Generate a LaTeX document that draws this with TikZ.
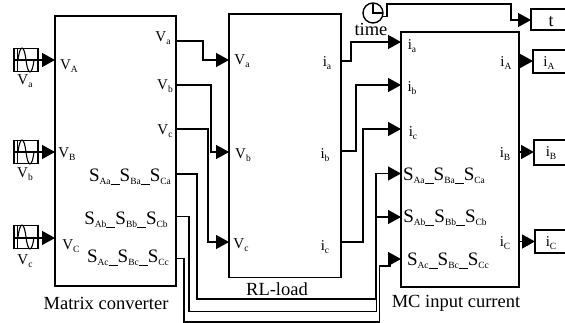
\documentclass[tikz,border=0pt]{standalone}
\usepackage{fontspec}
\setmainfont{Liberation Serif}
\usetikzlibrary{arrows.meta}
\newcommand{\lab}[2]{#1\raisebox{-3.5pt}{\fontsize{9.5}{9.5}\selectfont #2}}
\newcommand{\gap}{\rule[-3.5pt]{9pt}{0.8pt}}
\begin{document}
\begin{tikzpicture}[x=1pt,y=-1pt,
  every node/.style={inner sep=0pt,outer sep=0pt},
  blockbox/.style={draw,line width=1.4pt,fill=white,minimum width=0pt},
  wire/.style={draw,line width=1.4pt,-{Triangle[length=13pt,width=14pt]},line join=miter},
  port/.style={font=\fontsize{15}{15}\selectfont,anchor=center},
  big/.style={font=\fontsize{19}{19}\selectfont,anchor=center},
  capt/.style={font=\fontsize{18.5}{19}\selectfont,anchor=center}]
\useasboundingbox (0,0) rectangle (565,323);
\clip (0,0) rectangle (565,323);
% blocks
\node[blockbox,minimum width=121pt,minimum height=270pt,anchor=north west] (mc) at (55,16) {};
\node[blockbox,minimum width=112pt,minimum height=263.5pt,anchor=north west] (rl) at (229,14) {};
\node[blockbox,minimum width=118pt,minimum height=255pt,anchor=north west] (cur) at (401,32) {};
% sources
\foreach \n/\y in {sa/60,sb/152,sc/237}{
  \node[draw,line width=1.5pt,minimum width=24pt,minimum height=23pt] (\n) at (26,\y) {};
  \draw[line width=1.1pt] (18,\y) .. controls (20,\y-16) and (24,\y-16) .. (26,\y) .. controls (28,\y+16) and (32,\y+16) .. (34,\y);
  \draw[line width=1.1pt] (17.5,\y-11) -- (17.5,\y+11);
}
% clock
\node[draw,circle,line width=1.4pt,minimum size=20pt] (clk) at (373,13) {};
\draw[line width=1.2pt] (373,3) -- (373,13) -- (382,13);
\coordinate (clkout) at (382,16.5);
% outputs
\node[blockbox,minimum width=36pt,minimum height=21pt,anchor=north west] (tb) at (531,9) {};
\node[blockbox,minimum width=36pt,minimum height=23pt,anchor=north west] (ia) at (533,50) {};
\node[blockbox,minimum width=36pt,minimum height=25pt,anchor=north west] (ib) at (534,140) {};
\node[blockbox,minimum width=36pt,minimum height=23pt,anchor=north west] (ic) at (535,230) {};
% connectors
\path[wire] (14.5,60) -- (mc.west|-0,60);
\path[wire] (14.5,152) -- (mc.west|-0,152);
\path[wire] (14.5,238) -- (mc.west|-0,238);
\path[wire] (mc.east|-0,41) -| (203,60) -- (rl.west|-0,60);
\path[wire] (mc.east|-0,85) -| (211,152) -- (rl.west|-0,152);
\path[wire] (mc.east|-0,129) -| (208,242) -- (rl.west|-0,242);
\path[wire] (mc.east|-0,174) -| (197,299) -| (376,173.5) -- (cur.west|-0,173.5);
\path[wire] (mc.east|-0,216.5) -| (189,311.5) -| (376.5,217) -- (cur.west|-0,217);
\path[wire] (mc.east|-0,258.5) -| (184,322) -| (379.5,266) -| (390,259) -- (cur.west|-0,259);
\path[wire] (rl.east|-0,61) -| (351,42) -- (cur.west|-0,42);
\path[wire] (rl.east|-0,151) -| (356,85) -- (cur.west|-0,85);
\path[wire] (rl.east|-0,242) -| (363,129) -- (cur.west|-0,129);
\path[wire] (cur.east|-0,61) -- (ia.west|-0,61);
\path[wire] (cur.east|-0,152) -- (ib.west|-0,152);
\path[wire] (cur.east|-0,241.5) -- (ic.west|-0,241.5);
\path[wire] (clkout) -- (387,16.5) -- (387,4) -| (511,20) -- (tb.west|-0,20);
% source labels
\node[port] (l1) at (25,81) {\lab{V}{a}};
\node[port] (l2) at (25,174) {\lab{V}{b}};
\node[port] (l3) at (25,261) {\lab{V}{c}};
% matrix labels
\node[port] (m1) at (69,66) {\lab{V}{A}};
\node[port] (m2) at (67,154) {\lab{V}{B}};
\node[port] (m3) at (71,246) {\lab{V}{C}};
\node[port] (m4) at (163,38) {\lab{V}{a}};
\node[port] (m5) at (165,86) {\lab{V}{b}};
\node[port] (m6) at (165,131) {\lab{V}{c}};
\node[big] (m7) at (130,177) {\lab{S}{Aa}\gap\lab{S}{Ba}\gap\lab{S}{Ca}};
\node[big] (m8) at (126,220) {\lab{S}{Ab}\gap\lab{S}{Bb}\gap\lab{S}{Cb}};
\node[big] (m9) at (128,258) {\lab{S}{Ac}\gap\lab{S}{Bc}\gap\lab{S}{Cc}};
\node[capt] (m10) at (106,303) {Matrix converter};
% RL labels
\node[port] (r1) at (242,61) {\lab{V}{a}};
\node[port] (r2) at (243,155) {\lab{V}{b}};
\node[port] (r3) at (241,245) {\lab{V}{c}};
\node[port] (r4) at (327,63) {\lab{i}{a}};
\node[port] (r5) at (325,155) {\lab{i}{b}};
\node[port] (r6) at (325,247) {\lab{i}{c}};
\node[capt] (r7) at (277,289) {RL-load};
% current labels
\node[port] (c1) at (412,46) {\lab{i}{a}};
\node[port] (c2) at (412,88) {\lab{i}{b}};
\node[port] (c3) at (413,133) {\lab{i}{c}};
\node[port] (c4) at (506,63) {\lab{i}{A}};
\node[port] (c5) at (505,154) {\lab{i}{B}};
\node[port] (c6) at (505,243) {\lab{i}{C}};
\node[big] (c7) at (444,176) {\lab{S}{Aa}\gap\lab{S}{Ba}\gap\lab{S}{Ca}};
\node[big] (c8) at (445,218) {\lab{S}{Ab}\gap\lab{S}{Bb}\gap\lab{S}{Cb}};
\node[big] (c9) at (448,261) {\lab{S}{Ac}\gap\lab{S}{Bc}\gap\lab{S}{Cc}};
\node[capt] (c10) at (456,303) {MC input current};
\node[capt] (tm) at (371,29) {time};
% output labels
\node[font=\fontsize{18}{18}\selectfont] (o1) at (551,22) {t};
\node[port] (o2) at (549,63) {\lab{i}{A}};
\node[port] (o3) at (551,153) {\lab{i}{B}};
\node[port] (o4) at (551,243) {\lab{i}{C}};
\end{tikzpicture}
\end{document}
